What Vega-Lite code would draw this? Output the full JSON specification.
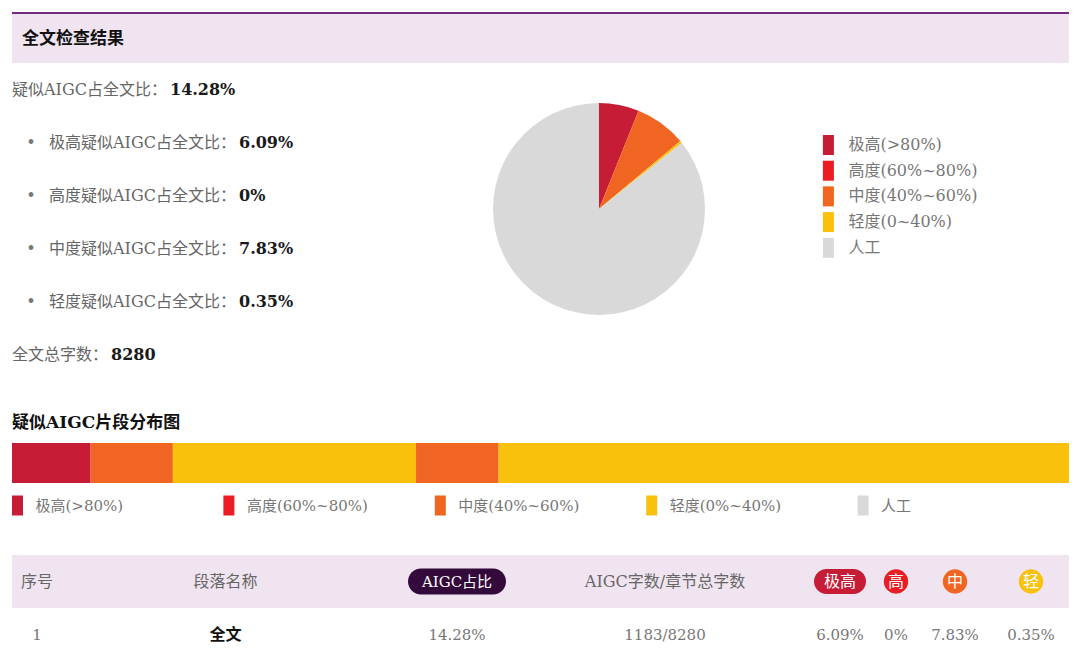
{
  "$schema": "https://vega.github.io/schema/vega-lite/v6.json",
  "background": "white",
  "padding": {"left": 12, "top": 12, "right": 11, "bottom": 0},
  "config": {
    "view": {"stroke": null},
    "font": "DejaVu Serif, Noto Sans CJK SC",
    "text": {"baseline": "middle"}
  },
  "datasets": {
    "overview": [
      {"序": 1, "级别": 1, "标签": "疑似AIGC占全文比：", "数值": "14.28%"},
      {"序": 2, "级别": 2, "标签": "极高疑似AIGC占全文比：", "数值": "6.09%"},
      {"序": 3, "级别": 2, "标签": "高度疑似AIGC占全文比：", "数值": "0%"},
      {"序": 4, "级别": 2, "标签": "中度疑似AIGC占全文比：", "数值": "7.83%"},
      {"序": 5, "级别": 2, "标签": "轻度疑似AIGC占全文比：", "数值": "0.35%"},
      {"序": 6, "级别": 1, "标签": "全文总字数：", "数值": "8280"}
    ],
    "levels": [
      {"序": 1, "等级": "极高(>80%)", "占比": 6.09},
      {"序": 2, "等级": "高度(60%~80%)", "占比": 0},
      {"序": 3, "等级": "中度(40%~60%)", "占比": 7.83},
      {"序": 4, "等级": "轻度(0~40%)", "占比": 0.35},
      {"序": 5, "等级": "人工", "占比": 85.73}
    ],
    "segments": [
      {"段": 1, "起": 0, "止": 616, "等级": "极高(>80%)"},
      {"段": 2, "起": 616, "止": 1260, "等级": "中度(40%~60%)"},
      {"段": 3, "起": 1260, "止": 3165, "等级": "轻度(0~40%)"},
      {"段": 4, "起": 3165, "止": 3812, "等级": "中度(40%~60%)"},
      {"段": 5, "起": 3812, "止": 8280, "等级": "轻度(0~40%)"}
    ],
    "barLegend": [
      {"等级": "极高(>80%)", "图例": "极高(>80%)"},
      {"等级": "高度(60%~80%)", "图例": "高度(60%~80%)"},
      {"等级": "中度(40%~60%)", "图例": "中度(40%~60%)"},
      {"等级": "轻度(0~40%)", "图例": "轻度(0%~40%)"},
      {"等级": "人工", "图例": "人工"}
    ],
    "table": [
      {"序号": "1", "段落名称": "全文", "AIGC占比": "14.28%", "字数": "1183/8280", "极高": "6.09%", "高": "0%", "中": "7.83%", "轻": "0.35%"}
    ]
  },
  "spacing": 0,
  "vconcat": [
    {
      "width": 1057, "height": 2,
      "data": {"values": [{"标题": "全文检查结果"}]},
      "mark": {"type": "rect", "color": "#722a7d"},
      "encoding": {}
    },
    {
      "width": 1057, "height": 49,
      "view": {"fill": "#f0e4f1", "stroke": null},
      "data": {"values": [{"标题": "全文检查结果"}]},
      "mark": {"type": "text", "align": "left", "fontSize": 17, "fontWeight": "bold", "color": "#111111"},
      "encoding": {
        "x": {"datum": 10, "type": "quantitative", "scale": {"domain": [0, 1057], "nice": false, "zero": false}, "axis": null},
        "text": {"field": "标题"}
      }
    },
    {
      "spacing": 22,
      "vconcat": [
        {
          "spacing": 118,
          "hconcat": [
            {
              "width": 363, "height": 318,
              "data": {"name": "overview"},
              "transform": [
                {"calculate": "datum['级别'] == 2 ? 37 : 0", "as": "缩进"},
                {"calculate": "datum['缩进'] + 16 * length(replace(datum['标签'], regexp('[A-Za-z]', 'g'), '')) + 10.75 * (length(datum['标签']) - length(replace(datum['标签'], regexp('[A-Za-z]', 'g'), ''))) + 3", "as": "数值x"}
              ],
              "encoding": {
                "y": {"field": "序", "type": "ordinal", "scale": {"type": "band", "paddingInner": 0, "paddingOuter": 0}, "axis": null}
              },
              "layer": [
                {
                  "transform": [{"filter": {"field": "级别", "equal": 2}}],
                  "mark": {"type": "text", "text": "•", "fontSize": 16, "color": "#777777", "align": "center"},
                  "encoding": {
                    "x": {"datum": 19, "type": "quantitative", "scale": {"domain": [0, 363], "nice": false, "zero": false}, "axis": null}
                  }
                },
                {
                  "mark": {"type": "text", "align": "left", "fontSize": 16, "color": "#666666"},
                  "encoding": {
                    "x": {"field": "缩进", "type": "quantitative", "scale": {"domain": [0, 363], "nice": false, "zero": false}, "axis": null},
                    "text": {"field": "标签"}
                  }
                },
                {
                  "mark": {"type": "text", "align": "left", "fontSize": 16, "fontWeight": "bold", "color": "#1a1a1a"},
                  "encoding": {
                    "x": {"field": "数值x", "type": "quantitative", "scale": {"domain": [0, 363], "nice": false, "zero": false}, "axis": null},
                    "text": {"field": "数值"}
                  }
                }
              ]
            },
            {
              "width": 212, "height": 292,
              "data": {"name": "levels"},
              "mark": {"type": "arc"},
              "encoding": {
                "theta": {"field": "占比", "type": "quantitative", "stack": true},
                "order": {"field": "序", "type": "quantitative"},
                "color": {
                  "field": "等级", "type": "nominal",
                  "scale": {"domain": ["极高(>80%)", "高度(60%~80%)", "中度(40%~60%)", "轻度(0~40%)", "人工"], "range": ["#c61c36", "#ec1c24", "#f06521", "#f9c10b", "#d9d9d9"]},
                  "legend": {
                    "orient": "none", "legendX": 806.4, "legendY": 123, "title": null,
                    "symbolType": "M-0.55,-1H0.55V1H-0.55Z", "symbolSize": 400, "symbolStrokeWidth": 0,
                    "labelFontSize": 16, "labelColor": "#777777", "labelOffset": 10, "rowPadding": 5.7, "padding": 0
                  }
                }
              }
            }
          ]
        },
        {
          "spacing": 32,
          "vconcat": [
            {
              "width": 1057, "height": 120,
              "resolve": {"scale": {"x": "independent"}},
              "layer": [
                {
                  "data": {"values": [{"标题": "疑似AIGC片段分布图"}]},
                  "mark": {"type": "text", "align": "left", "fontSize": 17, "fontWeight": "bold", "color": "#111111"},
                  "encoding": {
                    "x": {"datum": 0, "type": "quantitative", "scale": {"domain": [0, 8280], "nice": false, "zero": false}, "axis": null},
                    "y": {"datum": "标题", "type": "nominal", "scale": {"type": "band", "domain": ["标题", "条形", "图例"], "paddingInner": 0, "paddingOuter": 0}, "axis": null},
                    "text": {"field": "标题"}
                  }
                },
                {
                  "data": {"name": "segments"},
                  "mark": {"type": "bar"},
                  "encoding": {
                    "x": {"field": "起", "type": "quantitative", "scale": {"domain": [0, 8280], "nice": false, "zero": false}, "axis": null},
                    "x2": {"field": "止"},
                    "y": {"datum": "条形", "type": "nominal", "scale": {"type": "band", "domain": ["标题", "条形", "图例"], "paddingInner": 0, "paddingOuter": 0}, "axis": null},
                    "color": {
                      "field": "等级", "type": "nominal",
                      "scale": {"domain": ["极高(>80%)", "高度(60%~80%)", "中度(40%~60%)", "轻度(0~40%)", "人工"], "range": ["#c61c36", "#ec1c24", "#f06521", "#f9c10b", "#d9d9d9"]},
                      "legend": null
                    }
                  }
                },
                {
                  "data": {"name": "barLegend"},
                  "mark": {"type": "point", "shape": "M-0.55,-1H0.55V1H-0.55Z", "size": 400, "filled": true, "opacity": 1, "xOffset": 5.5, "yOffset": 2.5},
                  "encoding": {
                    "x": {"field": "图例", "type": "nominal", "sort": null, "bandPosition": 0, "scale": {"type": "band", "paddingInner": 0, "paddingOuter": 0}, "axis": null},
                    "y": {"datum": "图例", "type": "nominal", "scale": {"type": "band", "domain": ["标题", "条形", "图例"], "paddingInner": 0, "paddingOuter": 0}, "axis": null},
                    "color": {
                      "field": "等级", "type": "nominal",
                      "scale": {"domain": ["极高(>80%)", "高度(60%~80%)", "中度(40%~60%)", "轻度(0~40%)", "人工"], "range": ["#c61c36", "#ec1c24", "#f06521", "#f9c10b", "#d9d9d9"]},
                      "legend": null
                    }
                  }
                },
                {
                  "data": {"name": "barLegend"},
                  "mark": {"type": "text", "align": "left", "dx": 23.5, "yOffset": 2.5, "fontSize": 15, "color": "#777777"},
                  "encoding": {
                    "x": {"field": "图例", "type": "nominal", "sort": null, "bandPosition": 0, "scale": {"type": "band", "paddingInner": 0, "paddingOuter": 0}, "axis": null},
                    "y": {"datum": "图例", "type": "nominal", "scale": {"type": "band", "domain": ["标题", "条形", "图例"], "paddingInner": 0, "paddingOuter": 0}, "axis": null},
                    "text": {"field": "图例"}
                  }
                }
              ]
            },
            {
              "spacing": 0,
              "hconcat": [
                {
                  "width": 50, "height": 106,
                  "data": {"name": "table"},
                  "layer": [
                    {"mark": {"type": "rect", "color": "#f0e4f1"}, "encoding": {"y": {"datum": "表头", "type": "nominal", "scale": {"type": "band", "domain": ["表头", "正文"], "paddingInner": 0, "paddingOuter": 0}, "axis": null}}},
                    {"mark": {"type": "text", "text": "序号", "fontSize": 16, "color": "#666666"}, "encoding": {"y": {"datum": "表头", "type": "nominal", "scale": {"type": "band", "domain": ["表头", "正文"], "paddingInner": 0, "paddingOuter": 0}, "axis": null}}},
                    {"mark": {"type": "text", "fontSize": 15, "color": "#777777"}, "encoding": {"y": {"datum": "正文", "type": "nominal", "scale": {"type": "band", "domain": ["表头", "正文"], "paddingInner": 0, "paddingOuter": 0}, "axis": null}, "text": {"field": "序号"}}}
                  ]
                },
                {
                  "width": 327, "height": 106,
                  "data": {"name": "table"},
                  "layer": [
                    {"mark": {"type": "rect", "color": "#f0e4f1"}, "encoding": {"y": {"datum": "表头", "type": "nominal", "scale": {"type": "band", "domain": ["表头", "正文"], "paddingInner": 0, "paddingOuter": 0}, "axis": null}}},
                    {"mark": {"type": "text", "text": "段落名称", "fontSize": 16, "color": "#666666"}, "encoding": {"y": {"datum": "表头", "type": "nominal", "scale": {"type": "band", "domain": ["表头", "正文"], "paddingInner": 0, "paddingOuter": 0}, "axis": null}}},
                    {"mark": {"type": "text", "fontSize": 16, "fontWeight": "bold", "color": "#111111"}, "encoding": {"y": {"datum": "正文", "type": "nominal", "scale": {"type": "band", "domain": ["表头", "正文"], "paddingInner": 0, "paddingOuter": 0}, "axis": null}, "text": {"field": "段落名称"}}}
                  ]
                },
                {
                  "width": 136, "height": 106,
                  "data": {"name": "table"},
                  "layer": [
                    {"mark": {"type": "rect", "color": "#f0e4f1"}, "encoding": {"y": {"datum": "表头", "type": "nominal", "scale": {"type": "band", "domain": ["表头", "正文"], "paddingInner": 0, "paddingOuter": 0}, "axis": null}}},
                    {"mark": {"type": "point", "shape": "M-0.7347,-0.2653L0.7347,-0.2653C0.8812,-0.2653,1,-0.1465,1,0C1,0.1465,0.8812,0.2653,0.7347,0.2653L-0.7347,0.2653C-0.8812,0.2653,-1,0.1465,-1,0C-1,-0.1465,-0.8812,-0.2653,-0.7347,-0.2653Z", "size": 9604, "filled": true, "opacity": 1, "color": "#34093b"}, "encoding": {"y": {"datum": "表头", "type": "nominal", "scale": {"type": "band", "domain": ["表头", "正文"], "paddingInner": 0, "paddingOuter": 0}, "axis": null}}},
                    {"mark": {"type": "text", "text": "AIGC占比", "fontSize": 15, "color": "#ffffff"}, "encoding": {"y": {"datum": "表头", "type": "nominal", "scale": {"type": "band", "domain": ["表头", "正文"], "paddingInner": 0, "paddingOuter": 0}, "axis": null}}},
                    {"mark": {"type": "text", "fontSize": 15, "color": "#777777"}, "encoding": {"y": {"datum": "正文", "type": "nominal", "scale": {"type": "band", "domain": ["表头", "正文"], "paddingInner": 0, "paddingOuter": 0}, "axis": null}, "text": {"field": "AIGC占比"}}}
                  ]
                },
                {
                  "width": 280, "height": 106,
                  "data": {"name": "table"},
                  "layer": [
                    {"mark": {"type": "rect", "color": "#f0e4f1"}, "encoding": {"y": {"datum": "表头", "type": "nominal", "scale": {"type": "band", "domain": ["表头", "正文"], "paddingInner": 0, "paddingOuter": 0}, "axis": null}}},
                    {"mark": {"type": "text", "text": "AIGC字数/章节总字数", "fontSize": 16, "color": "#666666"}, "encoding": {"y": {"datum": "表头", "type": "nominal", "scale": {"type": "band", "domain": ["表头", "正文"], "paddingInner": 0, "paddingOuter": 0}, "axis": null}}},
                    {"mark": {"type": "text", "fontSize": 15, "color": "#777777"}, "encoding": {"y": {"datum": "正文", "type": "nominal", "scale": {"type": "band", "domain": ["表头", "正文"], "paddingInner": 0, "paddingOuter": 0}, "axis": null}, "text": {"field": "字数"}}}
                  ]
                },
                {
                  "width": 70, "height": 106,
                  "data": {"name": "table"},
                  "layer": [
                    {"mark": {"type": "rect", "color": "#f0e4f1"}, "encoding": {"y": {"datum": "表头", "type": "nominal", "scale": {"type": "band", "domain": ["表头", "正文"], "paddingInner": 0, "paddingOuter": 0}, "axis": null}}},
                    {"mark": {"type": "point", "shape": "M-0.5192,-0.4808L0.5192,-0.4808C0.7847,-0.4808,1,-0.2655,1,0C1,0.2655,0.7847,0.4808,0.5192,0.4808L-0.5192,0.4808C-0.7847,0.4808,-1,0.2655,-1,0C-1,-0.2655,-0.7847,-0.4808,-0.5192,-0.4808Z", "size": 2704, "filled": true, "opacity": 1}, "encoding": {"y": {"datum": "表头", "type": "nominal", "scale": {"type": "band", "domain": ["表头", "正文"], "paddingInner": 0, "paddingOuter": 0}, "axis": null}, "color": {"datum": "极高(>80%)", "type": "nominal", "scale": {"domain": ["极高(>80%)", "高度(60%~80%)", "中度(40%~60%)", "轻度(0~40%)", "人工"], "range": ["#c61c36", "#ec1c24", "#f06521", "#f9c10b", "#d9d9d9"]}, "legend": null}}},
                    {"mark": {"type": "text", "text": "极高", "fontSize": 16, "color": "#ffffff"}, "encoding": {"y": {"datum": "表头", "type": "nominal", "scale": {"type": "band", "domain": ["表头", "正文"], "paddingInner": 0, "paddingOuter": 0}, "axis": null}}},
                    {"mark": {"type": "text", "fontSize": 15, "color": "#777777"}, "encoding": {"y": {"datum": "正文", "type": "nominal", "scale": {"type": "band", "domain": ["表头", "正文"], "paddingInner": 0, "paddingOuter": 0}, "axis": null}, "text": {"field": "极高"}}}
                  ]
                },
                {
                  "width": 42, "height": 106,
                  "data": {"name": "table"},
                  "layer": [
                    {"mark": {"type": "rect", "color": "#f0e4f1"}, "encoding": {"y": {"datum": "表头", "type": "nominal", "scale": {"type": "band", "domain": ["表头", "正文"], "paddingInner": 0, "paddingOuter": 0}, "axis": null}}},
                    {"mark": {"type": "point", "shape": "circle", "size": 594, "filled": true, "opacity": 1}, "encoding": {"y": {"datum": "表头", "type": "nominal", "scale": {"type": "band", "domain": ["表头", "正文"], "paddingInner": 0, "paddingOuter": 0}, "axis": null}, "color": {"datum": "高度(60%~80%)", "type": "nominal", "scale": {"domain": ["极高(>80%)", "高度(60%~80%)", "中度(40%~60%)", "轻度(0~40%)", "人工"], "range": ["#c61c36", "#ec1c24", "#f06521", "#f9c10b", "#d9d9d9"]}, "legend": null}}},
                    {"mark": {"type": "text", "text": "高", "fontSize": 16, "color": "#ffffff"}, "encoding": {"y": {"datum": "表头", "type": "nominal", "scale": {"type": "band", "domain": ["表头", "正文"], "paddingInner": 0, "paddingOuter": 0}, "axis": null}}},
                    {"mark": {"type": "text", "fontSize": 15, "color": "#777777"}, "encoding": {"y": {"datum": "正文", "type": "nominal", "scale": {"type": "band", "domain": ["表头", "正文"], "paddingInner": 0, "paddingOuter": 0}, "axis": null}, "text": {"field": "高"}}}
                  ]
                },
                {
                  "width": 76, "height": 106,
                  "data": {"name": "table"},
                  "layer": [
                    {"mark": {"type": "rect", "color": "#f0e4f1"}, "encoding": {"y": {"datum": "表头", "type": "nominal", "scale": {"type": "band", "domain": ["表头", "正文"], "paddingInner": 0, "paddingOuter": 0}, "axis": null}}},
                    {"mark": {"type": "point", "shape": "circle", "size": 594, "filled": true, "opacity": 1}, "encoding": {"y": {"datum": "表头", "type": "nominal", "scale": {"type": "band", "domain": ["表头", "正文"], "paddingInner": 0, "paddingOuter": 0}, "axis": null}, "color": {"datum": "中度(40%~60%)", "type": "nominal", "scale": {"domain": ["极高(>80%)", "高度(60%~80%)", "中度(40%~60%)", "轻度(0~40%)", "人工"], "range": ["#c61c36", "#ec1c24", "#f06521", "#f9c10b", "#d9d9d9"]}, "legend": null}}},
                    {"mark": {"type": "text", "text": "中", "fontSize": 16, "color": "#ffffff"}, "encoding": {"y": {"datum": "表头", "type": "nominal", "scale": {"type": "band", "domain": ["表头", "正文"], "paddingInner": 0, "paddingOuter": 0}, "axis": null}}},
                    {"mark": {"type": "text", "fontSize": 15, "color": "#777777"}, "encoding": {"y": {"datum": "正文", "type": "nominal", "scale": {"type": "band", "domain": ["表头", "正文"], "paddingInner": 0, "paddingOuter": 0}, "axis": null}, "text": {"field": "中"}}}
                  ]
                },
                {
                  "width": 76, "height": 106,
                  "data": {"name": "table"},
                  "layer": [
                    {"mark": {"type": "rect", "color": "#f0e4f1"}, "encoding": {"y": {"datum": "表头", "type": "nominal", "scale": {"type": "band", "domain": ["表头", "正文"], "paddingInner": 0, "paddingOuter": 0}, "axis": null}}},
                    {"mark": {"type": "point", "shape": "circle", "size": 594, "filled": true, "opacity": 1}, "encoding": {"y": {"datum": "表头", "type": "nominal", "scale": {"type": "band", "domain": ["表头", "正文"], "paddingInner": 0, "paddingOuter": 0}, "axis": null}, "color": {"datum": "轻度(0~40%)", "type": "nominal", "scale": {"domain": ["极高(>80%)", "高度(60%~80%)", "中度(40%~60%)", "轻度(0~40%)", "人工"], "range": ["#c61c36", "#ec1c24", "#f06521", "#f9c10b", "#d9d9d9"]}, "legend": null}}},
                    {"mark": {"type": "text", "text": "轻", "fontSize": 16, "color": "#ffffff"}, "encoding": {"y": {"datum": "表头", "type": "nominal", "scale": {"type": "band", "domain": ["表头", "正文"], "paddingInner": 0, "paddingOuter": 0}, "axis": null}}},
                    {"mark": {"type": "text", "fontSize": 15, "color": "#777777"}, "encoding": {"y": {"datum": "正文", "type": "nominal", "scale": {"type": "band", "domain": ["表头", "正文"], "paddingInner": 0, "paddingOuter": 0}, "axis": null}, "text": {"field": "轻"}}}
                  ]
                }
              ]
            }
          ]
        }
      ]
    }
  ]
}
